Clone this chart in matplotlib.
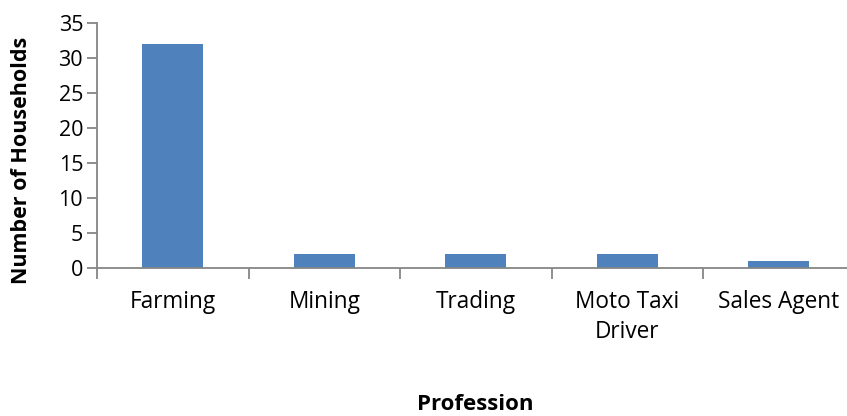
import matplotlib
matplotlib.use("Agg")
import matplotlib.pyplot as plt

professions = ["Farming", "Mining", "Trading", "Moto Taxi\nDriver", "Sales Agent"]
households = [32, 2, 2, 2, 1]
y_ticks = [0, 5, 10, 15, 20, 25, 30, 35]

plt.rcParams["font.family"] = ["Open Sans", "DejaVu Sans"]

W, H = 847, 416
fig = plt.figure(figsize=(W / 100, H / 100), dpi=100)
ax = fig.add_axes([97 / W, (H - 268) / H, 757.5 / W, 245 / H])

x = range(len(professions))
ax.bar(x, households, width=0.4, color="#4F81BD", zorder=2)

ax.set_xlim(-0.5, len(professions) - 0.5)
ax.set_ylim(0, 35)
ax.set_yticks(y_ticks)
ax.set_yticklabels([str(v) for v in y_ticks], fontsize=15.5, color="#000000")

# category labels sit between boundary ticks, as in a category axis
ax.set_xticks(list(x))
ax.set_xticklabels(professions, fontsize=16.3, linespacing=1.3)
ax.tick_params(axis="x", length=0, pad=16)
ax.set_xticks([i - 0.5 for i in range(len(professions) + 1)], minor=True)
ax.tick_params(axis="x", which="minor", length=8, width=1.3, color="#868686", direction="out")
ax.tick_params(axis="y", length=7, width=1.3, color="#868686", direction="out", pad=3)

for side in ("top", "right"):
    ax.spines[side].set_visible(False)
for side in ("left", "bottom"):
    ax.spines[side].set_color("#868686")
    ax.spines[side].set_linewidth(1.3)

fig.text(22 / W, 1 - 160 / H, "Number of Households", fontsize=15.5, fontweight="bold",
         rotation=90, ha="center", va="center")
fig.text(475 / W, 1 - 404 / H, "Profession", fontsize=16, fontweight="bold",
         ha="center", va="center")

fig.savefig("out.png", dpi=100)
